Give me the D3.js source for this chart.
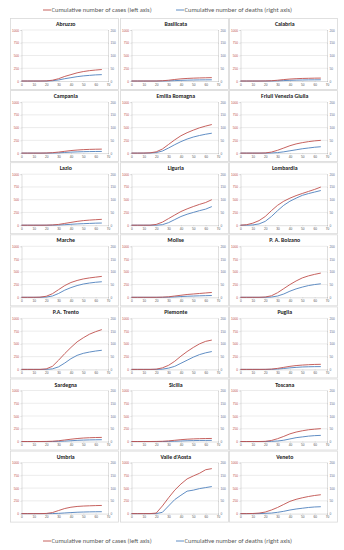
<!DOCTYPE html>
<html>
<head>
<meta charset="utf-8">
<script src="https://cdn.jsdelivr.net/npm/d3@7"></script>
<style>
  body { margin: 0; background: #fff; }
  svg { display: block; font-family: Calibri, Carlito, "Liberation Sans", Arial, sans-serif; }
</style>
</head>
<body>
<div id="chart"></div>
<script>
// days since start, sampled every 5 days
const days = [0, 5, 10, 15, 20, 25, 30, 35, 40, 45, 50, 55, 60, 65]

const regions = [
  'Abruzzo', 'Basilicata', 'Calabria',
  'Campania', 'Emilia Romagna', 'Friuli Venezia Giulia',
  'Lazio', 'Liguria', 'Lombardia',
  'Marche', 'Molise', 'P. A. Bolzano',
  'P.A. Trento', 'Piemonte', 'Puglia',
  'Sardegna', 'Sicilia', 'Toscana',
  'Umbria', "Valle d'Aosta", 'Veneto'
]

// cumulative cases (left axis)
const cases = [
  [0, 0, 0, 0, 2, 15, 45, 90, 125, 160, 185, 203, 215, 225],
  [0, 0, 0, 0, 0, 5, 15, 30, 42, 50, 56, 60, 63, 66],
  [0, 0, 0, 0, 1, 5, 15, 28, 38, 45, 50, 53, 56, 57],
  [0, 0, 0, 0, 2, 8, 20, 35, 50, 60, 68, 73, 76, 78],
  [0, 0, 1, 5, 25, 80, 170, 260, 340, 400, 450, 495, 530, 560],
  [0, 0, 0, 0, 3, 20, 55, 100, 145, 180, 205, 225, 240, 250],
  [0, 0, 0, 0, 1, 5, 15, 35, 55, 75, 90, 100, 108, 115],
  [0, 0, 0, 0, 15, 60, 130, 200, 268, 320, 366, 408, 445, 500],
  [0, 10, 40, 90, 170, 285, 390, 470, 530, 580, 622, 662, 702, 748],
  [0, 0, 0, 3, 20, 70, 150, 230, 290, 330, 360, 380, 395, 410],
  [0, 0, 0, 0, 0, 3, 10, 25, 40, 55, 65, 75, 85, 95],
  [0, 0, 0, 0, 5, 30, 90, 170, 250, 320, 380, 420, 450, 475],
  [0, 0, 0, 0, 10, 60, 180, 310, 430, 540, 620, 690, 740, 780],
  [0, 0, 0, 0, 5, 30, 80, 160, 260, 350, 430, 500, 550, 575],
  [0, 0, 0, 0, 1, 6, 20, 40, 60, 75, 85, 92, 97, 100],
  [0, 0, 0, 0, 1, 5, 15, 30, 45, 58, 68, 74, 78, 80],
  [0, 0, 0, 0, 1, 4, 12, 24, 36, 45, 51, 55, 58, 60],
  [0, 0, 0, 0, 3, 20, 55, 100, 150, 185, 210, 230, 242, 252],
  [0, 0, 0, 0, 3, 20, 60, 100, 125, 140, 148, 153, 157, 160],
  [0, 0, 0, 0, 10, 150, 310, 460, 580, 680, 738, 790, 860, 882],
  [0, 0, 2, 10, 30, 70, 120, 180, 240, 280, 310, 335, 355, 370]
]

// cumulative deaths (right axis)
const deaths = [
  [0, 0, 0, 0, 0, 1, 4, 9, 13, 17, 20, 22, 24, 25],
  [0, 0, 0, 0, 0, 0, 0.5, 1.5, 2.5, 3.2, 3.8, 4.2, 4.5, 4.6],
  [0, 0, 0, 0, 0, 0, 0.6, 1.6, 2.6, 3.3, 3.9, 4.3, 4.5, 4.6],
  [0, 0, 0, 0, 0, 0.3, 1, 2.5, 3.8, 4.8, 5.6, 6, 6.3, 6.5],
  [0, 0, 0, 0.5, 2, 8, 20, 33, 45, 55, 63, 69, 74, 78],
  [0, 0, 0, 0, 0, 0.5, 2, 5, 9, 13, 17, 20, 23, 25],
  [0, 0, 0, 0, 0, 0.2, 0.8, 2, 3.5, 5, 6, 7, 8, 8.5],
  [0, 0, 0, 0, 0, 2, 10, 22, 34, 43, 50, 57, 63, 73],
  [0, 0, 1, 5, 15, 34, 57, 78, 94, 106, 117, 124, 130, 136],
  [0, 0, 0, 0, 1, 5, 15, 28, 38, 46, 52, 56, 59, 61],
  [0, 0, 0, 0, 0, 0, 0.5, 1.5, 3, 4, 5, 5.8, 6.5, 7],
  [0, 0, 0, 0, 0, 1, 5, 13, 24, 33, 40, 46, 50, 53],
  [0, 0, 0, 0, 0, 2, 10, 25, 42, 55, 63, 68, 72, 75],
  [0, 0, 0, 0, 0, 1, 5, 12, 24, 36, 48, 58, 65, 70],
  [0, 0, 0, 0, 0, 0.2, 1.5, 3.5, 6, 8, 9.5, 10.3, 10.8, 11],
  [0, 0, 0, 0, 0, 0, 0.5, 1.5, 3, 4.5, 5.5, 6.2, 6.7, 7],
  [0, 0, 0, 0, 0, 0, 0.3, 1, 2, 3, 3.6, 4, 4.2, 4.4],
  [0, 0, 0, 0, 0, 0.5, 2, 5, 10, 15, 18, 21, 23, 24],
  [0, 0, 0, 0, 0, 0.2, 1, 2.5, 4, 5.3, 6.2, 6.8, 7.2, 7.4],
  [0, 0, 0, 0, 0, 5, 30, 55, 72, 88, 92, 98, 102, 106],
  [0, 0, 0, 0, 1, 2, 5, 9, 14, 18, 21, 24, 26, 27]
]

const xTicks = [0, 10, 20, 30, 40, 50, 60, 70]
const leftTicks = [0, 250, 500, 750, 1000]
const rightTicks = [0, 50, 100, 150, 200]
const legendLabels = ['Cumulative number of cases (left axis)', 'Cumulative number of deaths (right axis)']

const red = '#c0504d'
const blue = '#4f81bd'
const grid = '#d9d9d9'

const W = 344
const H = 550
const panelW = 108
const panelH = 71
const colX = [10, 120, 229]
const rowY = i => 18 + i * 72.1

const svg = d3.select('#chart').append('svg')
  .attr('width', W)
  .attr('height', H)

const x = d3.scaleLinear().domain([0, 70]).range([11.5, 98])
const yL = d3.scaleLinear().domain([0, 1000]).range([63, 12])
const yR = d3.scaleLinear().domain([0, 200]).range([63, 12])

const lineL = d3.line().x((d, i) => x(days[i])).y(d => yL(d))
const lineR = d3.line().x((d, i) => x(days[i])).y(d => yR(d))

regions.forEach((name, k) => {
  const g = svg.append('g')
    .attr('transform', `translate(${colX[k % 3]},${rowY(Math.floor(k / 3))})`)

  g.append('rect')
    .attr('x', 0.5).attr('y', 0.5)
    .attr('width', panelW).attr('height', panelH)
    .attr('fill', '#fff')
    .attr('stroke', grid)
    .attr('stroke-width', 0.8)

  g.append('text')
    .attr('x', (x.range()[0] + x.range()[1]) / 2 + 1)
    .attr('y', 8)
    .attr('text-anchor', 'middle')
    .attr('font-size', 5.8)
    .attr('font-weight', 'bold')
    .attr('fill', '#222')
    .text(name)

  // gridlines
  g.append('g').selectAll('line')
    .data(leftTicks.slice(1))
    .join('line')
    .attr('x1', x(0)).attr('x2', x(70))
    .attr('y1', d => yL(d)).attr('y2', d => yL(d))
    .attr('stroke', grid)
    .attr('stroke-width', 0.5)

  const fmt = d3.format('d')
  const axL = g.append('g')
    .attr('transform', `translate(${x(0)},0)`)
    .call(d3.axisLeft(yL).tickValues(leftTicks).tickFormat(fmt).tickSize(1).tickPadding(1.5))
  const axR = g.append('g')
    .attr('transform', `translate(${x(70)},0)`)
    .call(d3.axisRight(yR).tickValues(rightTicks).tickFormat(fmt).tickSize(1).tickPadding(1.5))
  const axB = g.append('g')
    .attr('transform', `translate(0,${yL(0)})`)
    .call(d3.axisBottom(x).tickValues(xTicks).tickFormat(fmt).tickSize(1).tickPadding(1.5))

  ;[axL, axR, axB].forEach(ax => {
    ax.select('.domain').attr('stroke', '#bfbfbf').attr('stroke-width', 0.5)
    ax.selectAll('.tick line').attr('stroke', '#bfbfbf').attr('stroke-width', 0.5)
    ax.selectAll('text').attr('font-size', 3.2).attr('font-family', 'inherit')
  })
  axL.selectAll('text').attr('fill', red)
  axR.selectAll('text').attr('fill', '#5a6f8f')
  axB.selectAll('text').attr('fill', '#555')

  g.append('path')
    .datum(deaths[k])
    .attr('d', lineR)
    .attr('fill', 'none')
    .attr('stroke', blue)
    .attr('stroke-width', 0.9)

  g.append('path')
    .datum(cases[k])
    .attr('d', lineL)
    .attr('fill', 'none')
    .attr('stroke', red)
    .attr('stroke-width', 0.9)
})

// legends top and bottom
const legend = (yy) => {
  const lg = svg.append('g').attr('transform', `translate(0,${yy})`)
  const items = [{label: legendLabels[0], color: red, x: 43}, {label: legendLabels[1], color: blue, x: 176}]
  items.forEach(it => {
    lg.append('line')
      .attr('x1', it.x).attr('x2', it.x + 8)
      .attr('y1', 0).attr('y2', 0)
      .attr('stroke', it.color)
      .attr('stroke-width', 0.9)
    lg.append('text')
      .attr('x', it.x + 8.5)
      .attr('y', 2.2)
      .attr('font-size', 6.5)
      .attr('fill', '#595959')
      .text(it.label)
  })
}
legend(10)
legend(541)
</script>
</body>
</html>
